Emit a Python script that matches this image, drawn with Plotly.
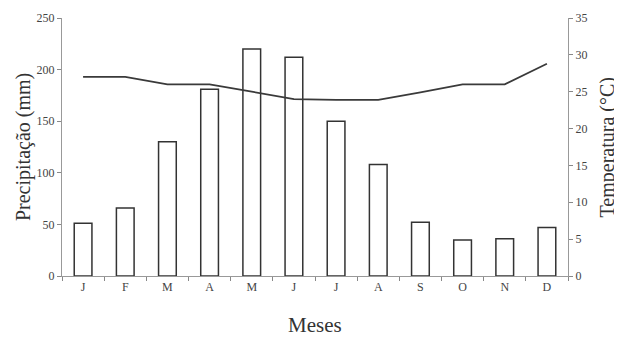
import plotly.graph_objects as go

meses = ["J", "F", "M", "A", "M", "J", "J", "A", "S", "O", "N", "D"]
precipitacao = [51, 66, 130, 181, 220, 212, 150, 108, 52, 35, 36, 47]
temperatura = [27.0, 27.0, 26.0, 26.0, 25.0, 24.0, 23.9, 23.9, 24.9, 26.0, 26.0, 28.8]

x = list(range(len(meses)))
font_fam = "Liberation Serif"

fig = go.Figure()
fig.add_trace(go.Bar(
    x=x, y=precipitacao, width=0.42,
    marker=dict(color="white", line=dict(color="#333333", width=1.5)),
    yaxis="y", showlegend=False,
))
fig.add_trace(go.Scatter(
    x=x, y=temperatura, mode="lines",
    line=dict(color="#3a3a3a", width=1.8),
    yaxis="y2", showlegend=False,
))

axis_common = dict(
    showline=True, linecolor="#999999", linewidth=1,
    showgrid=False, zeroline=False, automargin=False,
    tickfont=dict(size=12, family=font_fam, color="#444444"),
)

fig.update_layout(
    width=614, height=333,
    margin=dict(l=54, r=54, t=10, b=65, autoexpand=False),
    paper_bgcolor="white", plot_bgcolor="white",
    font=dict(family=font_fam, color="#444444", size=12),
    xaxis=dict(
        range=[-0.5, 11.5],
        tickvals=x, ticktext=meses, ticks="",
        minor=dict(tickvals=[i + 0.5 for i in range(-1, 12)], ticks="outside",
                   ticklen=4, tickcolor="#888888"),
        **axis_common,
    ),
    yaxis=dict(
        range=[0, 250], tickvals=[0, 50, 100, 150, 200, 250],
        ticks="outside", ticklen=4, tickcolor="#888888",
        **axis_common,
    ),
    yaxis2=dict(
        range=[0, 35], tickvals=[0, 5, 10, 15, 20, 25, 30, 35],
        overlaying="y", side="right", anchor="x",
        ticks="outside", ticklen=4, tickcolor="#888888",
        **axis_common,
    ),
    annotations=[
        dict(text="Meses", xref="paper", yref="paper", x=0.5, y=-0.19,
             xanchor="center", yanchor="middle", showarrow=False,
             font=dict(size=21, family=font_fam, color="#333333")),
        dict(text="Precipitação (mm)", xref="paper", yref="paper", x=-0.077, y=0.5,
             xanchor="center", yanchor="middle", textangle=-90, showarrow=False,
             font=dict(size=20, family=font_fam, color="#333333")),
        dict(text="Temperatura (°C)", xref="paper", yref="paper", x=1.078, y=0.5,
             xanchor="center", yanchor="middle", textangle=-90, showarrow=False,
             font=dict(size=20, family=font_fam, color="#333333")),
    ],
)

fig.write_html("out.html")
